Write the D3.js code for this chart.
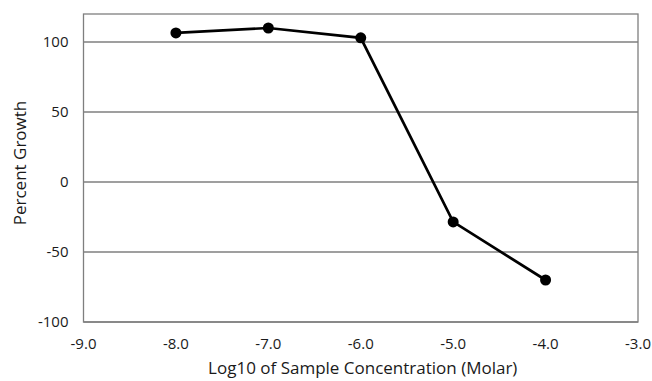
<!DOCTYPE html>
<html>
<head>
<meta charset="utf-8">
<script src="https://cdn.jsdelivr.net/npm/d3@7"></script>
<style>
  body { margin: 0; background: #fff; }
  text { font-family: "Open Sans", sans-serif; fill: #1a1a1a; }
</style>
</head>
<body>
<div id="chart"></div>
<script>
let concentrations = [-8, -7, -6, -5, -4];
let growth = [106.5, 110, 103, -28.5, -70];
let xTicks = [-9, -8, -7, -6, -5, -4, -3];
let yTicks = [-100, -50, 0, 50, 100];

let width = 652;
let height = 381;
let margin = {top: 14, right: 14, bottom: 59, left: 83.5};

let svg = d3.select("#chart")
    .append("svg")
    .attr("width", width)
    .attr("height", height);

let x = d3.scaleLinear()
    .domain([-9, -3])
    .range([margin.left, width - margin.right]);

let y = d3.scaleLinear()
    .domain([-100, 120])
    .range([height - margin.bottom, margin.top]);

// plain hyphen for negatives, like the original
let fmtX = d => d3.format(".1f")(d).replace("\u2212", "-");
let fmtY = d => String(d);

// gridlines
svg.append("g")
    .selectAll("line")
    .data(yTicks)
    .enter()
    .append("line")
    .attr("x1", x(-9))
    .attr("x2", x(-3))
    .attr("y1", d => y(d))
    .attr("y2", d => y(d))
    .attr("stroke", "#7f7f7f")
    .attr("stroke-width", 1.3);

// plot frame
svg.append("rect")
    .attr("x", x(-9))
    .attr("y", y(120))
    .attr("width", x(-3) - x(-9))
    .attr("height", y(-100) - y(120))
    .attr("fill", "none")
    .attr("stroke", "#7f7f7f")
    .attr("stroke-width", 1.3);

// tick labels
svg.append("g")
    .selectAll("text")
    .data(yTicks)
    .enter()
    .append("text")
    .attr("x", x(-9) - 15)
    .attr("y", d => y(d))
    .attr("dy", "0.35em")
    .attr("text-anchor", "end")
    .style("font-size", "15px")
    .text(fmtY);

svg.append("g")
    .selectAll("text")
    .data(xTicks)
    .enter()
    .append("text")
    .attr("x", d => x(d))
    .attr("y", y(-100) + 22)
    .attr("dy", "0.35em")
    .attr("text-anchor", "middle")
    .style("font-size", "15px")
    .text(fmtX);

// series
let points = concentrations.map((c, i) => [c, growth[i]]);

svg.append("path")
    .datum(points)
    .attr("fill", "none")
    .attr("stroke", "#000")
    .attr("stroke-width", 2.7)
    .attr("d", d3.line().x(d => x(d[0])).y(d => y(d[1])));

svg.append("g")
    .selectAll("circle")
    .data(points)
    .enter()
    .append("circle")
    .attr("cx", d => x(d[0]))
    .attr("cy", d => y(d[1]))
    .attr("r", 5.5)
    .attr("fill", "#000");

// axis titles
svg.append("text")
    .attr("x", (x(-9) + x(-3)) / 2 + 2)
    .attr("y", 368)
    .attr("dy", "0.35em")
    .attr("text-anchor", "middle")
    .style("font-size", "17px")
    .text("Log10 of Sample Concentration (Molar)");

svg.append("text")
    .attr("transform", "translate(20," + 163 + ") rotate(-90)")
    .attr("dy", "0.35em")
    .attr("text-anchor", "middle")
    .style("font-size", "17px")
    .text("Percent Growth");
</script>
</body>
</html>
